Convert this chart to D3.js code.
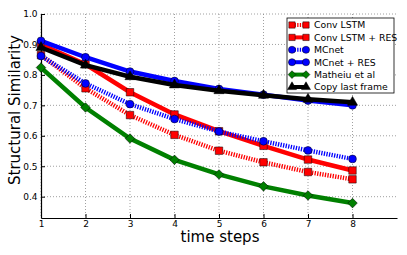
<!DOCTYPE html>
<html>
<head>
<meta charset="utf-8">
<script src="https://cdn.jsdelivr.net/npm/d3@7"></script>
<style>
  body { margin: 0; background: #fff; }
  svg text { font-family: "DejaVu Sans", sans-serif; }
  .grid line { stroke: #888; stroke-dasharray: 1,2; stroke-width: 0.8; }
  .axis path, .axis line { stroke: #000; }
</style>
</head>
<body>
<div id="chart"></div>
<script>
// time steps
const steps = [1, 2, 3, 4, 5, 6, 7, 8];

// structural similarity per method
const convLstm = [0.865, 0.756, 0.668, 0.603, 0.551, 0.513, 0.481, 0.457];
const convLstmRes = [0.900, 0.835, 0.743, 0.670, 0.615, 0.567, 0.522, 0.486];
const mcnet = [0.862, 0.772, 0.704, 0.655, 0.614, 0.582, 0.552, 0.524];
const mcnetRes = [0.912, 0.858, 0.811, 0.780, 0.754, 0.735, 0.716, 0.700];
const matheiu = [0.824, 0.693, 0.591, 0.521, 0.473, 0.434, 0.404, 0.379];
const copyLast = [0.890, 0.832, 0.794, 0.767, 0.748, 0.733, 0.720, 0.710];

const yTicks = [0.4, 0.5, 0.6, 0.7, 0.8, 0.9, 1.0];

const series = [
    { name: "Conv LSTM", values: convLstm, color: "#ff0000", dotted: true, marker: "square" },
    { name: "Conv LSTM + RES", values: convLstmRes, color: "#ff0000", dotted: false, marker: "square" },
    { name: "MCnet", values: mcnet, color: "#0000ff", dotted: true, marker: "circle" },
    { name: "MCnet + RES", values: mcnetRes, color: "#0000ff", dotted: false, marker: "circle" },
    { name: "Matheiu et al", values: matheiu, color: "#008000", dotted: false, marker: "diamond" },
    { name: "Copy last frame", values: copyLast, color: "#000000", dotted: false, marker: "triangle" }
];

const W = 407, H = 255;
const margin = { top: 14, right: 10, bottom: 37, left: 41 };
const width = W - margin.left - margin.right;
const height = H - margin.top - margin.bottom;

const svg = d3.select("#chart")
    .append("svg")
    .attr("width", W)
    .attr("height", H)
    .append("g")
    .attr("transform", `translate(${margin.left}, ${margin.top})`);

const x = d3.scaleLinear().domain([1, 9]).range([0, width]);
const y = d3.scaleLinear().domain([0.33, 1.0]).range([height, 0]);

// grid
const grid = svg.append("g").attr("class", "grid");
grid.selectAll(".gx").data(steps).join("line")
    .attr("x1", d => x(d)).attr("x2", d => x(d))
    .attr("y1", 0).attr("y2", height);
grid.selectAll(".gy").data(yTicks).join("line")
    .attr("x1", 0).attr("x2", width)
    .attr("y1", d => y(d)).attr("y2", d => y(d));

// axes
svg.append("g")
    .attr("class", "axis")
    .attr("transform", `translate(0, ${height})`)
    .call(d3.axisBottom(x).tickValues(steps).tickFormat(d3.format("d")).tickSizeInner(-4).tickSizeOuter(0).tickPadding(3))
    .call(g => g.selectAll("text").attr("font-size", 9).attr("font-family", "DejaVu Sans"));

svg.append("g")
    .attr("class", "axis")
    .call(d3.axisLeft(y).tickValues(yTicks).tickFormat(d3.format(".1f")).tickSizeInner(-4).tickSizeOuter(0).tickPadding(3.5))
    .call(g => g.selectAll("text").attr("font-size", 9).attr("font-family", "DejaVu Sans"));

svg.selectAll(".axis path").attr("stroke-width", 1.2);

// marker shapes
const symbolFor = {
    square: d3.symbol().type(d3.symbolSquare).size(56),
    circle: d3.symbol().type(d3.symbolCircle).size(48),
    diamond: d3.symbol().type(d3.symbolSquare).size(46),
    triangle: d3.symbol().type(d3.symbolTriangle).size(45)
};
const legendSymbol = {
    square: d3.symbol().type(d3.symbolSquare).size(40),
    circle: d3.symbol().type(d3.symbolCircle).size(40),
    diamond: d3.symbol().type(d3.symbolSquare).size(30),
    triangle: d3.symbol().type(d3.symbolTriangle).size(35)
};

const line = d3.line().x((d, i) => x(steps[i])).y(d => y(d));

series.forEach(s => {
    svg.append("path")
        .datum(s.values)
        .attr("fill", "none")
        .attr("stroke", s.color)
        .attr("stroke-width", 4.5)
        .attr("stroke-dasharray", s.dotted ? "1.3,1.3" : null)
        .attr("d", line);

    svg.selectAll(null)
        .data(s.values)
        .join("path")
        .attr("d", symbolFor[s.marker])
        .attr("transform", (d, i) => `translate(${x(steps[i])}, ${y(d)})` + (s.marker === "diamond" ? " rotate(45)" : ""))
        .attr("fill", s.color)
        .attr("stroke", "#000")
        .attr("stroke-width", 0.5);
});

// legend
const legend = svg.append("g").attr("transform", `translate(${287 - margin.left}, ${18 - margin.top})`);
legend.append("rect")
    .attr("width", 107).attr("height", 75)
    .attr("fill", "#fff").attr("stroke", "#000").attr("stroke-width", 0.8);

series.forEach((s, i) => {
    const ly = 7 + i * 12.4;
    const row = legend.append("g").attr("transform", `translate(0, ${ly})`);
    row.append("line")
        .attr("x1", 5).attr("x2", 19)
        .attr("stroke", s.color)
        .attr("stroke-width", 4)
        .attr("stroke-dasharray", s.dotted ? "1.3,1.3" : null);
    [5, 19].forEach(mx => {
        row.append("path")
            .attr("d", legendSymbol[s.marker])
            .attr("transform", `translate(${mx}, 0)` + (s.marker === "diamond" ? " rotate(45)" : ""))
            .attr("fill", s.color)
            .attr("stroke", "#000")
            .attr("stroke-width", 0.5);
    });
    row.append("text")
        .attr("x", 27)
        .attr("y", 3.3)
        .attr("font-size", 9.3)
        .text(s.name);
});

// axis labels
svg.append("text")
    .attr("x", width / 2 + 1)
    .attr("y", height + 24)
    .attr("text-anchor", "middle")
    .attr("font-size", 15)
    .text("time steps");

svg.append("text")
    .attr("transform", "rotate(-90)")
    .attr("x", -(height / 2) + 6)
    .attr("y", -margin.left + 20)
    .attr("text-anchor", "middle")
    .attr("font-size", 15)
    .text("Structural Similarity");
</script>
</body>
</html>
